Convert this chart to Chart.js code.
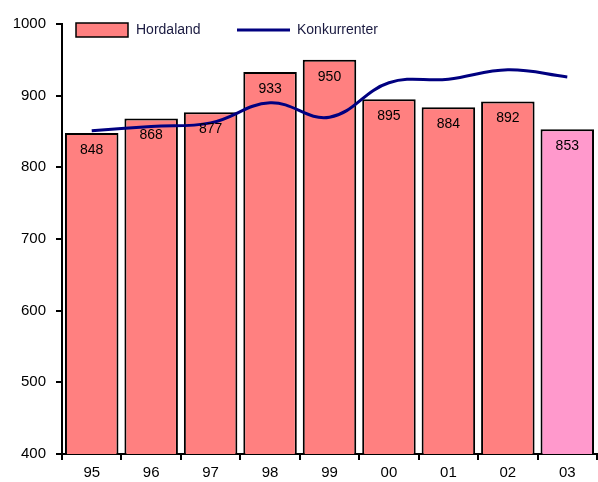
<!DOCTYPE html>
<html>
<head>
<meta charset="utf-8">
<script src="https://cdn.jsdelivr.net/npm/chart.js@4"></script>
<style>
    html, body { margin: 0; padding: 0; background: #fff; }
    #wrap { width: 598px; height: 482px; }
</style>
</head>
<body>
<div id="wrap"><canvas id="canvas" width="598" height="482"></canvas></div>
<script>
// データ
const years = ['95', '96', '97', '98', '99', '00', '01', '02', '03'];
const hordaland = [848, 868, 877, 933, 950, 895, 884, 892, 853];
const konkurrenter = [851, 857, 862, 890, 870, 918, 923, 936, 926];
const barColors = ['#FF8080', '#FF8080', '#FF8080', '#FF8080', '#FF8080', '#FF8080', '#FF8080', '#FF8080', '#FF99CC'];

const FONT = 'Arial, "Liberation Sans", sans-serif';

// 棒の中に値を描く + 凡例
const labelPlugin = {
    id: 'labelPlugin',
    afterDatasetsDraw(chart) {
        const ctx = chart.ctx;
        const meta = chart.getDatasetMeta(0);
        ctx.save();
        ctx.font = '14px ' + FONT;
        ctx.fillStyle = '#000';
        ctx.textAlign = 'center';
        ctx.textBaseline = 'middle';
        meta.data.forEach((bar, i) => {
            ctx.fillText(String(hordaland[i]), bar.x, bar.y + 17);
        });

        // 凡例
        const a = chart.chartArea;
        const ly = a.top + 6;
        ctx.fillStyle = barColors[0];
        ctx.fillRect(a.left + 14, ly - 7, 52, 14);
        ctx.strokeStyle = '#000';
        ctx.lineWidth = 1.5;
        ctx.strokeRect(a.left + 14, ly - 7, 52, 14);
        ctx.font = '14px ' + FONT;
        ctx.textAlign = 'left';
        ctx.fillStyle = '#1a1a40';
        ctx.fillText(chart.data.datasets[0].label, a.left + 74, ly);
        ctx.strokeStyle = '#000080';
        ctx.lineWidth = 3;
        ctx.beginPath();
        ctx.moveTo(a.left + 175, ly);
        ctx.lineTo(a.left + 228, ly);
        ctx.stroke();
        ctx.fillText(chart.data.datasets[1].label, a.left + 235, ly);
        ctx.restore();
    }
};

const ctx = document.getElementById('canvas').getContext('2d');
new Chart(ctx, {
    type: 'bar',
    data: {
        labels: years,
        datasets: [
            {
                type: 'bar',
                label: 'Hordaland',
                data: hordaland,
                backgroundColor: barColors,
                borderColor: '#000',
                borderWidth: 2,
                borderSkipped: false,
                barPercentage: 0.9,
                categoryPercentage: 1.0,
                order: 2
            },
            {
                type: 'line',
                label: 'Konkurrenter',
                data: konkurrenter,
                borderColor: '#000080',
                borderWidth: 3,
                pointRadius: 0,
                tension: 0.4,
                fill: false,
                order: 1
            }
        ]
    },
    options: {
        responsive: false,
        animation: false,
        layout: { padding: { top: 24, left: 0, right: 1, bottom: 0 } },
        plugins: {
            legend: { display: false },
            tooltip: { enabled: false }
        },
        scales: {
            x: {
                offset: true,
                grid: {
                    offset: true,
                    drawOnChartArea: false,
                    drawTicks: true,
                    tickLength: 6,
                    color: '#000',
                    lineWidth: 2
                },
                border: { color: '#000', width: 2 },
                ticks: { color: '#000', font: { family: FONT, size: 15 }, padding: 4 },
                afterFit(scale) { scale.height = 28; }
            },
            y: {
                min: 400,
                max: 1000,
                grid: {
                    drawOnChartArea: false,
                    drawTicks: true,
                    tickLength: 6,
                    color: '#000',
                    lineWidth: 2
                },
                border: { color: '#000', width: 2 },
                ticks: {
                    stepSize: 100,
                    color: '#000',
                    font: { family: FONT, size: 15 },
                    padding: 10,
                    callback: (v) => String(v)
                },
                afterFit(scale) { scale.width = 62; }
            }
        }
    },
    plugins: [labelPlugin]
});
</script>
</body>
</html>
